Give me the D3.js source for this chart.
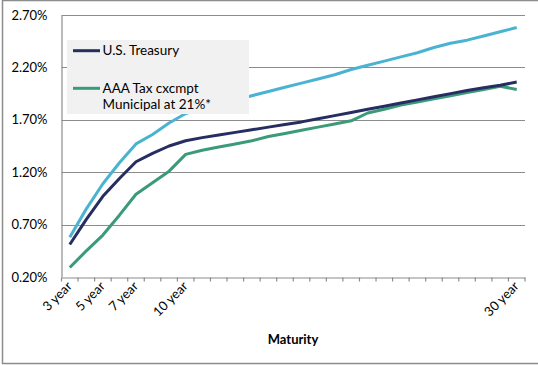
<!DOCTYPE html>
<html>
<head>
<meta charset="utf-8">
<script src="https://cdn.jsdelivr.net/npm/d3@7"></script>
<style>
  html, body { margin: 0; padding: 0; background: #fff; }
  svg { display: block; font-family: Lato, "Open Sans", sans-serif; }
</style>
</head>
<body>
<svg id="chart" width="538" height="365"></svg>
<script>
// ---- data ----
const years = [3,4,5,6,7,8,9,10,11,12,13,14,15,16,17,18,19,20,21,22,23,24,25,26,27,28,29,30];
const labeledYears = [3,5,7,10,30];
const yTicks = [0.2, 0.7, 1.2, 1.7, 2.2, 2.7];

const treasury = [0.51,0.75,0.97,1.14,1.30,1.38,1.45,1.50,1.53,1.555,1.58,1.605,1.63,1.655,1.68,1.71,1.74,1.77,1.80,1.83,1.86,1.89,1.92,1.95,1.98,2.005,2.03,2.06];
const municipal = [0.29,0.45,0.60,0.79,0.99,1.10,1.21,1.37,1.41,1.44,1.47,1.50,1.54,1.57,1.60,1.63,1.66,1.69,1.765,1.80,1.84,1.87,1.90,1.93,1.96,1.99,2.02,1.99];
const taxableEquiv = [0.58,0.85,1.09,1.29,1.47,1.56,1.67,1.76,1.81,1.85,1.89,1.93,1.97,2.01,2.05,2.09,2.13,2.18,2.22,2.26,2.30,2.34,2.39,2.43,2.46,2.50,2.54,2.58];

const seriesNames = ["U.S. Treasury", "AAA Tax cxcmpt\nMunicipal at 21%*", "Taxable equivalent"];
const seriesColors = ["#252d61", "#3b9a78", "#4bb3d2"];

// ---- layout ----
const svg = d3.select("#chart");
const plotL = 61.5, plotR = 525, plotT = 15, plotB = 277;

const x = d3.scaleBand().domain(years).range([plotL, plotR]).padding(0);
const y = d3.scaleLinear().domain([0.2, 2.7]).range([plotB, plotT]);

// outer frame
svg.append("rect")
  .attr("x", 2.5).attr("y", 0.5).attr("width", 600).attr("height", 363)
  .attr("fill", "none").attr("stroke", "#8c8c8c").attr("stroke-width", 1.5);

// gridlines
svg.append("g").selectAll("line").data(yTicks.slice(1)).join("line")
  .attr("x1", plotL).attr("x2", plotR)
  .attr("y1", d => Math.round(y(d)) + 0.5).attr("y2", d => Math.round(y(d)) + 0.5)
  .attr("stroke", "#8c8c8c").attr("stroke-width", 1.2);

// y axis labels
const yAxis = d3.axisLeft(y).tickValues(yTicks).tickSize(0).tickPadding(14)
  .tickFormat(d => d.toFixed(2) + "%");
const gy = svg.append("g").attr("transform", `translate(${plotL},0)`).call(yAxis);
gy.select(".domain").attr("stroke", "#8c8c8c").attr("stroke-width", 1.2);
gy.selectAll("text").attr("font-size", 13).attr("fill", "#000")
  .attr("font-family", "Lato, sans-serif");

// x axis
const xAxis = d3.axisBottom(x).tickSize(0).tickFormat("");
const gx = svg.append("g").attr("transform", `translate(0,${Math.round(plotB) + 0.5})`).call(xAxis);
gx.select(".domain").attr("stroke", "#8c8c8c").attr("stroke-width", 1.2);
const boundaries = years.map(d => x(d)).concat([x(years[years.length - 1]) + x.bandwidth()]);
gx.selectAll("line.tb").data(boundaries).join("line").attr("class", "tb")
  .attr("x1", d => d).attr("x2", d => d).attr("y1", 0).attr("y2", 4)
  .attr("stroke", "#8c8c8c").attr("stroke-width", 1.2);

svg.append("g").selectAll("text").data(labeledYears).join("text")
  .attr("transform", d => `translate(${x(d) + x.bandwidth() / 2 + 3},${plotB + 10}) rotate(-45)`)
  .attr("text-anchor", "end")
  .attr("font-size", 13).attr("fill", "#000")
  .text(d => d + " year");

svg.append("text")
  .attr("x", 293).attr("y", 344)
  .attr("text-anchor", "middle").attr("font-size", 13).attr("font-weight", "bold")
  .attr("fill", "#000").text("Maturity");

// lines
const line = d3.line()
  .x((d, i) => x(years[i]) + x.bandwidth() / 2)
  .y(d => y(d));

const data = [taxableEquiv, municipal, treasury];
const cols = [seriesColors[2], seriesColors[1], seriesColors[0]];
svg.append("g").selectAll("path").data(data).join("path")
  .attr("d", d => line(d))
  .attr("fill", "none")
  .attr("stroke", (d, i) => cols[i])
  .attr("stroke-width", 3)
  .attr("stroke-linejoin", "round");

// legend
const lg = svg.append("g");
lg.append("rect").attr("x", 67).attr("y", 40).attr("width", 182).attr("height", 74)
  .attr("fill", "#f1f1f1");
lg.append("line").attr("x1", 73).attr("x2", 100).attr("y1", 50.7).attr("y2", 50.7)
  .attr("stroke", seriesColors[0]).attr("stroke-width", 3);
lg.append("text").attr("x", 102.5).attr("y", 55).attr("font-size", 13.5).attr("fill", "#000")
  .text(seriesNames[0]);
lg.append("line").attr("x1", 73).attr("x2", 100).attr("y1", 88.3).attr("y2", 88.3)
  .attr("stroke", seriesColors[1]).attr("stroke-width", 3);
const t2 = lg.append("text").attr("x", 102.5).attr("y", 93.3).attr("font-size", 13.5).attr("fill", "#000");
seriesNames[1].split("\n").forEach((s, i) => {
  t2.append("tspan").attr("x", 102.5).attr("dy", i === 0 ? 0 : 15.4).text(s);
});
</script>
</body>
</html>
